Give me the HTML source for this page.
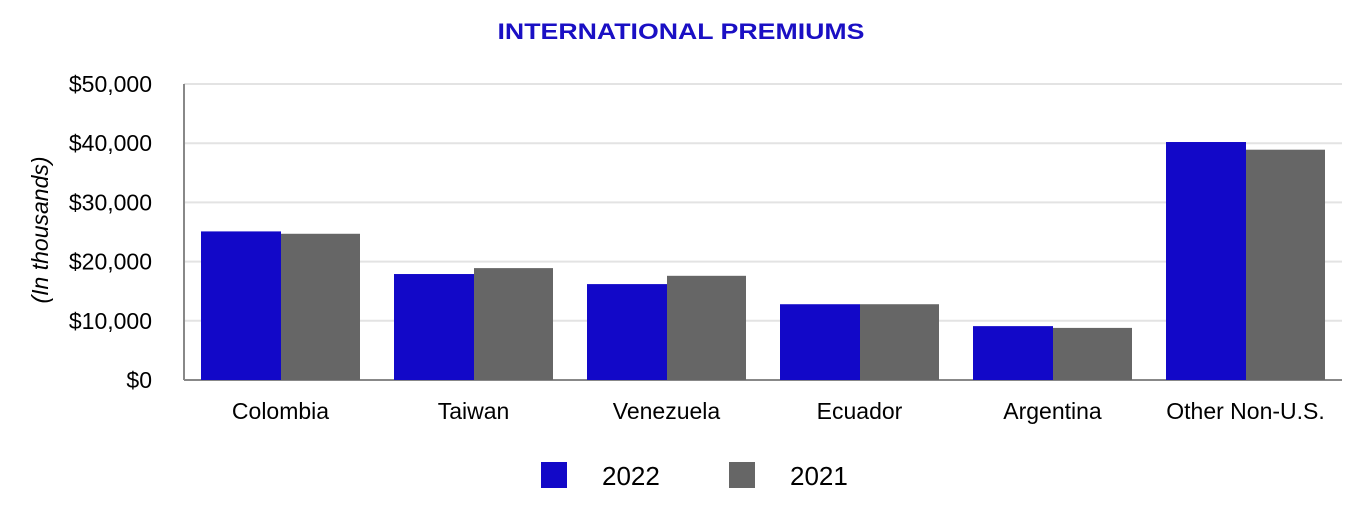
<!DOCTYPE html>
<html><head><meta charset="utf-8"><style>
body{margin:0;background:#fff;}
svg text{font-family:"Liberation Sans",Arial,sans-serif;}
</style></head><body>
<svg id="chart" width="1364" height="522">
<text x="681" y="39" text-anchor="middle" font-size="22" font-weight="bold" fill="#1a0fc4" textLength="367" lengthAdjust="spacingAndGlyphs">INTERNATIONAL PREMIUMS</text>
<text transform="translate(48,230) rotate(-90)" text-anchor="middle" font-size="23" font-style="italic" fill="#000">(In thousands)</text>
<g id="grid"></g><g id="bars"></g><g id="labels"></g>
<g>
<rect x="541" y="462" width="26" height="26" fill="#1208c8"/>
<text x="602" y="485" font-size="26" fill="#000">2022</text>
<rect x="729" y="462" width="26" height="26" fill="#666666"/>
<text x="790" y="485" font-size="26" fill="#000">2021</text>
</g>
</svg>
<script>
const categories=["Colombia","Taiwan","Venezuela","Ecuador","Argentina","Other Non-U.S."];
const values2022=[25100,17900,16200,12800,9100,40200];
const values2021=[24700,18900,17600,12800,8800,38900];
const yTicks=[0,10000,20000,30000,40000,50000];
const yTickLabels=["$0","$10,000","$20,000","$30,000","$40,000","$50,000"];
const NS="http://www.w3.org/2000/svg";
const x0=184,x1=1342,yZero=380,yTop=84,yMax=50000;
const y=v=>yZero-(v/yMax)*(yZero-yTop);
const gw=(x1-x0)/categories.length;
function mk(tag,attrs,parent){const e=document.createElementNS(NS,tag);for(const k in attrs)e.setAttribute(k,attrs[k]);parent.appendChild(e);return e;}
const grid=document.getElementById('grid'),bars=document.getElementById('bars'),labels=document.getElementById('labels');
yTicks.forEach((t,i)=>{
 const l=mk('line',{x1:x0,x2:x1,y1:y(t),y2:y(t),stroke:i===0?'#888':'#e3e3e3','stroke-width':2},grid);
 
 
 const tx=mk('text',{x:152,y:y(t)+8,'text-anchor':'end','font-size':23,fill:'#000'},labels);
 tx.textContent=yTickLabels[i];
 
 
});
const ax=mk('line',{x1:x0,x2:x0,y1:yTop,y2:yZero,stroke:'#888','stroke-width':2},grid);


categories.forEach((c,i)=>{
 const gx=x0+i*gw;
 const b1=mk('rect',{x:gx+17,y:y(values2022[i]),width:80,height:yZero-y(values2022[i]),fill:'#1208c8'},bars);
 
 
 const b2=mk('rect',{x:gx+97,y:y(values2021[i]),width:79,height:yZero-y(values2021[i]),fill:'#666666'},bars);
 
 
 const t=mk('text',{x:gx+gw/2,y:419,'text-anchor':'middle','font-size':23,fill:'#000'},labels);
 t.textContent=c;
 
 
});
</script>
</body></html>
